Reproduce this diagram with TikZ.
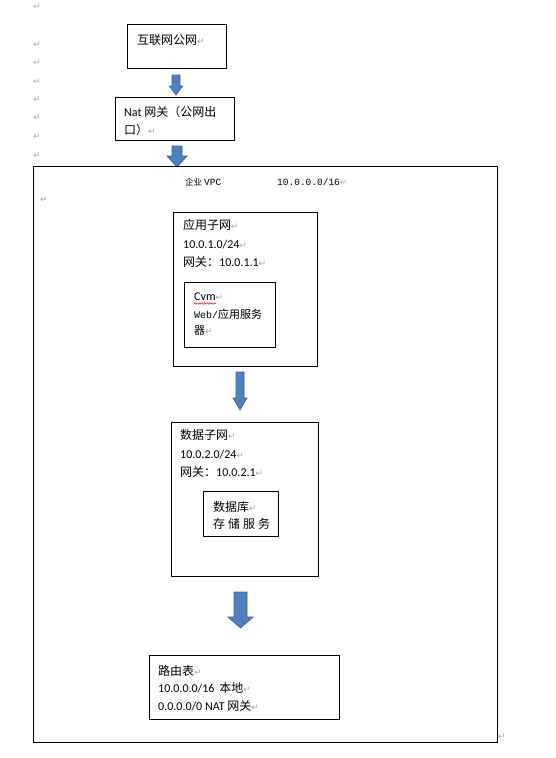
\documentclass[tikz,border=0pt]{standalone}
\usepackage{fontspec}
\setmainfont{Carlito}
\newfontfamily\cjk{Noto Sans CJK SC}
\newfontfamily\monof{Liberation Mono}
\newfontfamily\symf{DejaVu Sans}
\usetikzlibrary{decorations.pathmorphing}
\definecolor{arrowblue}{HTML}{4F81BD}
\definecolor{arrowedge}{HTML}{3A6594}
\definecolor{retgray}{HTML}{A6A6A6}
\newcommand\retm{{\symf\color{retgray}\fontsize{9}{9}\selectfont ↵}}
\newcommand\cj[1]{{\cjk #1}}
\newcommand\blockarrow[7]{%
  \filldraw[arrowsty] (#2-#5,#3) -- (#2+#5,#3) -- (#2+#5,#4) -- (#2+#6,#4)
     -- (#2,#7) -- (#2-#6,#4) -- (#2-#5,#4) -- cycle;
  \coordinate (#1) at (#2,#7);}
\begin{document}
\begin{tikzpicture}[x=1pt,y=-1pt,
  box/.style={draw=black, line width=0.9pt, inner sep=0pt, anchor=north west},
  txt/.style={anchor=west, inner sep=0pt, font=\fontsize{12}{14}\selectfont},
  retnode/.style={anchor=west, inner sep=0pt},
  arrowsty/.style={fill=arrowblue, draw=arrowedge, line width=0.7pt, line join=miter}]
\useasboundingbox (0,0) rectangle (556,758);
\fill[white] (0,0) rectangle (556,758);

% paragraph marks in the left margin
\foreach \yy [count=\i] in {7,45,63,82,100,118,137,156}
  \node[retnode] (m\i) at (33,\yy) {\retm};

% Internet
\node[box, minimum width=99pt, minimum height=44pt] (inet) at (127,24) {};
\node[txt] (inettxt) at (137,40) {\cj{互联网公网}\retm};

\blockarrow{a1}{176}{75}{86}{4}{6.5}{95}

% NAT gateway
\node[box, minimum width=119pt, minimum height=43pt] (nat) at (115,97) {};
\node[txt] (nat1) at (124,112) {Nat \cj{网关（公网出}};
\node[txt] (nat2) at (124,130) {\cj{口）}\retm};

\blockarrow{a2}{177}{146}{156}{5}{10}{167}

% VPC
\node[box, minimum width=464pt, minimum height=576pt] (vpc) at (33,166) {};
\node[anchor=west, inner sep=0pt, font=\cjk\fontsize{8.5}{9}\selectfont] (vpc1) at (185,182) {企业};
\node[anchor=west, inner sep=0pt, font=\monof\fontsize{9.5}{10}\selectfont] (vpc2) at (204,182) {VPC};
\node[anchor=west, inner sep=0pt, font=\monof\fontsize{9.5}{10}\selectfont] (vpc3) at (277,182) {10.0.0.0/16\retm};
\node[retnode] (m9) at (40,200) {\retm};

% application subnet
\node[box, minimum width=144pt, minimum height=154pt] (app) at (173,212) {};
\node[txt] (app1) at (183,225) {\cj{应用子网}\retm};
\node[txt] (app2) at (183,245) {10.0.1.0/24\retm};
\node[txt] (app3) at (183,262) {\cj{网关：}10.0.1.1\retm};
\node[box, minimum width=91pt, minimum height=65pt] (cvm) at (184,282) {};
\node[txt] (cvm1) at (194,297) {Cvm\retm};
\draw[red, line width=0.5pt, decorate, decoration={snake, amplitude=0.8pt, segment length=2.5pt}]
  (194,303.5) -- (216,303.5);
\node[txt] (cvm2) at (194,314) {{\monof\fontsize{10}{12}\selectfont Web/}{\cjk\fontsize{11}{12}\selectfont 应用服务}};
\node[txt] (cvm3) at (194,331) {{\cjk\fontsize{11}{12}\selectfont 器}\retm};

\blockarrow{a3}{240}{372}{398}{4}{7}{410}

% data subnet
\node[box, minimum width=147pt, minimum height=154pt] (data) at (171,422) {};
\node[txt] (data1) at (180,435) {\cj{数据子网}\retm};
\node[txt] (data2) at (180,455) {10.0.2.0/24\retm};
\node[txt] (data3) at (180,472) {\cj{网关：}10.0.2.1\retm};
\node[box, minimum width=75pt, minimum height=45pt] (db) at (203,491) {};
\node[txt] (db1) at (213,507) {\cj{数据库}\retm};
\node[txt] (db2) at (213,524) {\cj{存\hspace{3pt}储\hspace{3pt}服\hspace{3pt}务}};

\blockarrow{a4}{240.5}{592}{617}{6.5}{12.5}{628}

% routing table
\node[box, minimum width=190pt, minimum height=64pt] (rt) at (149,655) {};
\node[txt] (rt1) at (158,671) {\cj{路由表}\retm};
\node[txt] (rt2) at (158,688) {10.0.0.0/16\hspace{5pt}\cj{本地}\retm};
\node[txt] (rt3) at (158,706) {0.0.0.0/0 NAT \cj{网关}\retm};

\node[retnode] (m10) at (498,737) {\retm};
\end{tikzpicture}
\end{document}
